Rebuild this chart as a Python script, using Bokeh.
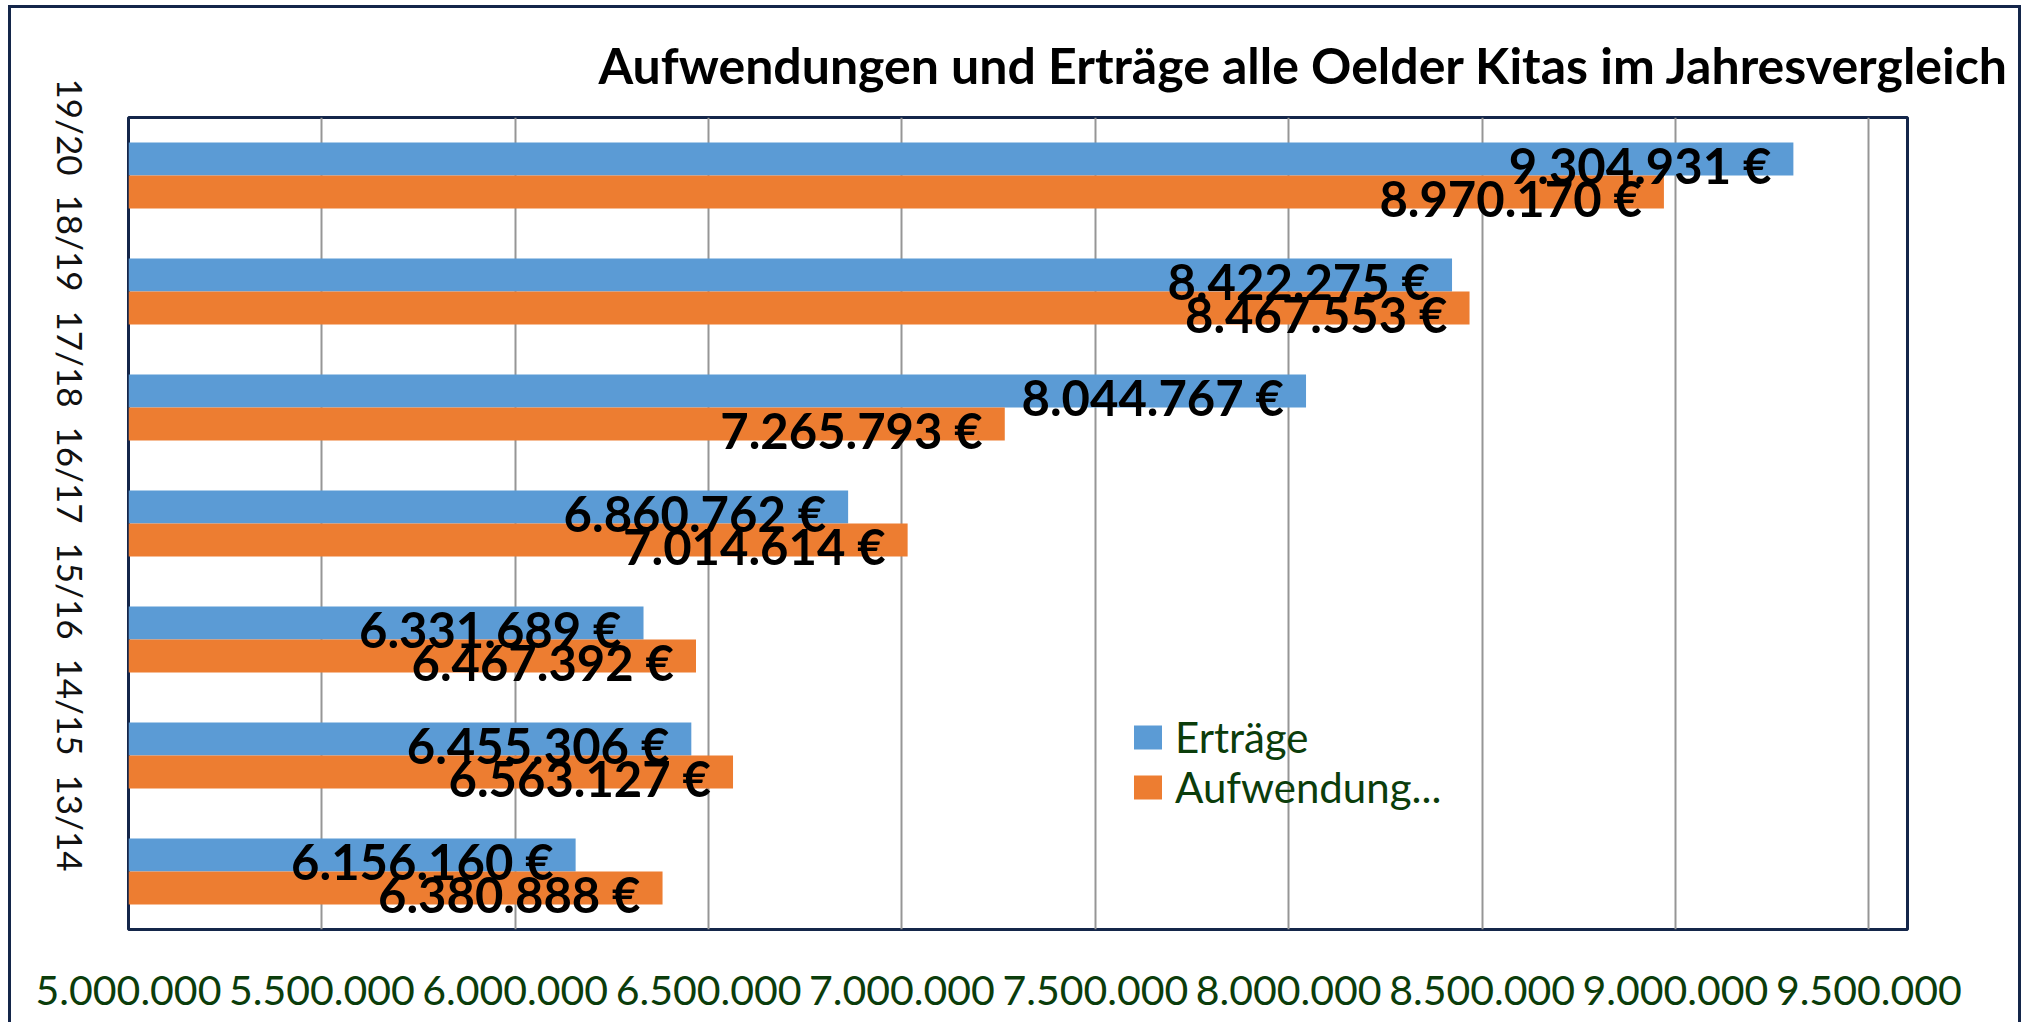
import math
from bokeh.plotting import figure
from bokeh.models import ColumnDataSource, FactorRange, FixedTicker, Legend, LegendItem, Range1d
from bokeh.transform import dodge
from bokeh.core.properties import value
from bokeh.embed import file_html
from bokeh.resources import INLINE

# ---- data ----
years = ["13/14", "14/15", "15/16", "16/17", "17/18", "18/19", "19/20"]
ertraege = [6156160, 6455306, 6331689, 6860762, 8044767, 8422275, 9304931]
aufwendungen = [6380888, 6563127, 6467392, 7014614, 7265793, 8467553, 8970170]
series_names = ["Erträge", "Aufwendung..."]
tick_values = [5000000, 5500000, 6000000, 6500000, 7000000, 7500000, 8000000, 8500000, 9000000, 9500000]
tick_labels = ["5.000.000", "5.500.000", "6.000.000", "6.500.000", "7.000.000",
               "7.500.000", "8.000.000", "8.500.000", "9.000.000", "9.500.000"]
title_text = "Aufwendungen und Erträge alle Oelder Kitas im Jahresvergleich"
x_start, x_end = 5000000, 9600000


def fmt(v):
    return f"{v:,}".replace(",", ".") + " €"


src = ColumnDataSource(dict(
    year=years,
    ertraege=ertraege,
    aufw=aufwendungen,
    base=[x_start] * len(years),
    e_lab=[fmt(v) for v in ertraege],
    a_lab=[fmt(v) for v in aufwendungen],
))

BLUE = "#5B9BD5"
ORANGE = "#ED7D31"
GREEN = "#0B3D0B"
NAVY = "#14264A"

p = figure(width=2007, height=1014,
           y_range=FactorRange(*years), x_range=Range1d(x_start, x_end),
           output_backend="svg", toolbar_location=None,
           min_border_left=117, min_border_right=117,
           min_border_top=109, min_border_bottom=96)
p.styles = {"box-sizing": "content-box",
            "margin-left": "8px",
            "margin-top": "5px",
            "border-top": f"3px solid {NAVY}",
            "border-left": f"3px solid {NAVY}",
            "border-right": f"3px solid {NAVY}"}

p.background_fill_color = "white"
p.border_fill_color = "white"
p.outline_line_color = NAVY
p.outline_line_width = 3

bh = 0.285
r1 = p.hbar(y=dodge("year", bh / 2, range=p.y_range), left="base", right="ertraege",
            height=bh, fill_color=BLUE, line_color=None, source=src)
r2 = p.hbar(y=dodge("year", -bh / 2, range=p.y_range), left="base", right="aufw",
            height=bh, fill_color=ORANGE, line_color=None, source=src)

common = dict(text_align="right", text_baseline="alphabetic", x_offset=-22, y_offset=-11,
              text_font=value("Lato"), text_font_style="bold", text_font_size="49px",
              text_color="black", source=src)
p.text(x="ertraege", y=dodge("year", 0.0, range=p.y_range), text="e_lab", **common)
p.text(x="aufw", y=dodge("year", -bh, range=p.y_range), text="a_lab", **common)

# grid
ticker = FixedTicker(ticks=tick_values)
p.xgrid.ticker = ticker
p.xgrid.grid_line_color = "#969696"
p.xgrid.grid_line_width = 2
p.ygrid.grid_line_color = None

# x axis
p.xaxis.ticker = ticker
p.xaxis.major_label_overrides = {v: lab for v, lab in zip(tick_values, tick_labels)}
p.xaxis.axis_line_color = None
p.xaxis.major_tick_line_color = None
p.xaxis.minor_tick_line_color = None
p.xaxis.major_label_text_font = "Lato"
p.xaxis.major_label_text_font_size = "41px"
p.xaxis.major_label_text_color = GREEN
p.xaxis.major_label_standoff = 40

# y axis
p.yaxis.axis_line_color = None
p.yaxis.major_tick_line_color = None
p.yaxis.minor_tick_line_color = None
p.yaxis.major_label_text_font = "Lato"
p.yaxis.major_label_text_font_size = "35px"
p.yaxis.major_label_text_color = "#111111"
p.yaxis.major_label_orientation = -math.pi / 2
p.yaxis.major_label_standoff = 52

# title
p.title.text = title_text
p.title.text_font = "Lato"
p.title.text_font_style = "bold"
p.title.text_font_size = "50px"
p.title.text_color = "black"
p.title.align = "right"
p.title.offset = -102
p.title.standoff = 46

legend = Legend(items=[LegendItem(label=series_names[0], renderers=[r1]),
                       LegendItem(label=series_names[1], renderers=[r2])],
                location=(1002, 117), orientation="vertical",
                glyph_width=35, glyph_height=30, label_standoff=10, spacing=-4,
                padding=0, margin=0,
                label_text_font="Lato", label_text_font_size="42px",
                label_text_color=GREEN,
                background_fill_alpha=0, border_line_alpha=0)
p.add_layout(legend, "center")

open("out.html", "w").write(file_html(p, INLINE))
